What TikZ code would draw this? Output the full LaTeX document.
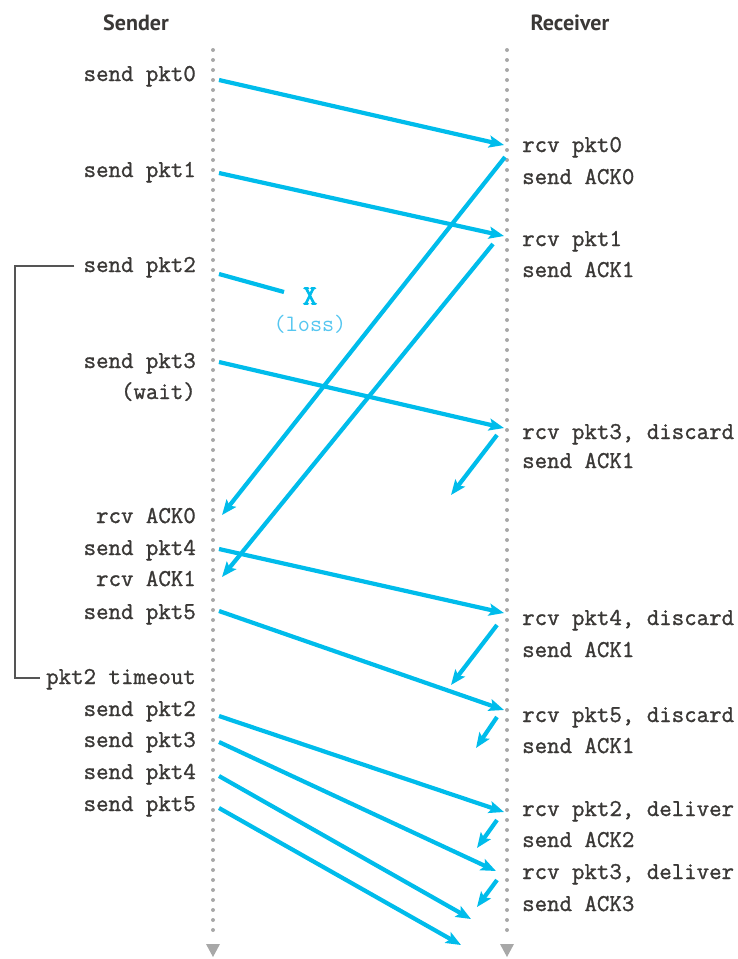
\documentclass[tikz,border=0pt]{standalone}
\usepackage{fontspec}
\newfontfamily\monof[FakeBold=1.2]{Latin Modern Mono}
\newfontfamily\monol{Latin Modern Mono}
\newfontfamily\monox[FakeBold=3]{Latin Modern Mono}
\newfontfamily\headf{PT Sans}
\usetikzlibrary{arrows.meta}
\definecolor{cy}{HTML}{00BCEB}
\definecolor{lcy}{HTML}{55C6F0}
\definecolor{txt}{HTML}{3A3836}
\definecolor{dotg}{HTML}{A8A8A8}
\definecolor{brk}{HTML}{555555}
\tikzset{
  hdr/.style={font=\headf\bfseries\fontsize{22}{26}\selectfont, text=txt, inner sep=0pt},
  slab/.style={font=\monof\fontsize{24.2}{28}\selectfont, text=txt, inner sep=0pt, anchor=base east},
  rlab/.style={font=\monof\fontsize{24.2}{28}\selectfont, text=txt, inner sep=0pt, anchor=base west},
  msg/.style={draw=cy, line width=4.2pt, -{Stealth[length=15pt,width=12pt,inset=3pt]}},
  lifeline/.style={draw=dotg, line width=4pt, line cap=round, dash pattern=on 0pt off 10pt},
  tip/.style={fill=dotg, draw=none},
  bracket/.style={draw=brk, line width=1.6pt}
}
\begin{document}
\begin{tikzpicture}[x=1pt,y=-1pt]
\useasboundingbox (0,0) rectangle (738,959);
% headers
\node[hdr] (hs) at (136,23) {Sender};
\node[hdr] (hr) at (570,23) {Receiver};
% lifelines
\coordinate (st) at (213,50); \coordinate (sb) at (213,938);
\coordinate (rt) at (507,50); \coordinate (rb) at (507,938);
\draw[lifeline] (st) -- (sb);
\draw[lifeline] (rt) -- (rb);
\fill[tip] (206,944) -- (220,944) -- (213,957) -- cycle;
\fill[tip] (500,944) -- (514,944) -- (507,957) -- cycle;
% sender labels
\node[slab] (s0) at (196,81) {send pkt0};
\node[slab] (s1) at (196,177) {send pkt1};
\node[slab] (s2) at (196,272) {send pkt2};
\node[slab] (s3) at (196,368) {send pkt3};
\node[slab] (sw) at (196,399) {(wait)};
\node[slab] (ra0) at (196,523) {rcv ACK0};
\node[slab] (s4) at (196,555) {send pkt4};
\node[slab] (ra1) at (196,586) {rcv ACK1};
\node[slab] (s5) at (196,619) {send pkt5};
\node[slab] (to) at (196,684) {pkt2 timeout};
\node[slab] (s2b) at (196,716) {send pkt2};
\node[slab] (s3b) at (196,747) {send pkt3};
\node[slab] (s4b) at (196,779) {send pkt4};
\node[slab] (s5b) at (196,811) {send pkt5};
% receiver labels
\node[rlab] (r0) at (522,152) {rcv pkt0};
\node[rlab] (k0) at (522,184) {send ACK0};
\node[rlab] (r1) at (522,246) {rcv pkt1};
\node[rlab] (k1) at (522,277) {send ACK1};
\node[rlab] (r3) at (522,439) {rcv pkt3, discard};
\node[rlab] (k1a) at (522,468) {send ACK1};
\node[rlab] (r4) at (522,625) {rcv pkt4, discard};
\node[rlab] (k1b) at (522,657) {send ACK1};
\node[rlab] (r5) at (522,722) {rcv pkt5, discard};
\node[rlab] (k1c) at (522,753) {send ACK1};
\node[rlab] (r2d) at (522,816) {rcv pkt2, deliver};
\node[rlab] (k2) at (522,847) {send ACK2};
\node[rlab] (r3d) at (522,879) {rcv pkt3, deliver};
\node[rlab] (k3) at (522,911) {send ACK3};
% loss
\node[font=\monox\fontsize{28}{32}\selectfont, text=cy, inner sep=0pt] (x) at (310,296) {X};
\node[font=\monol\fontsize{23.5}{28}\selectfont, text=lcy, inner sep=0pt] (loss) at (310,324) {(loss)};
% endpoints
\coordinate (p0a) at (219,80);  \coordinate (p0b) at (504,145);
\coordinate (p1a) at (219,173); \coordinate (p1b) at (504,236);
\coordinate (p2a) at (219,274); \coordinate (p2b) at (284,292);
\coordinate (p3a) at (219,362); \coordinate (p3b) at (504,428);
\coordinate (a0a) at (505,157); \coordinate (a0b) at (222,515);
\coordinate (a1a) at (493,244); \coordinate (a1b) at (222,577);
\coordinate (a2a) at (497,435); \coordinate (a2b) at (451,495);
\coordinate (p4a) at (219,549); \coordinate (p4b) at (504,613);
\coordinate (a3a) at (497,625); \coordinate (a3b) at (451,685);
\coordinate (p5a) at (219,611); \coordinate (p5b) at (504,710);
\coordinate (a4a) at (497,717); \coordinate (a4b) at (476,748);
\coordinate (q2a) at (219,716); \coordinate (q2b) at (504,812);
\coordinate (a5a) at (497,820); \coordinate (a5b) at (477,848);
\coordinate (q3a) at (219,742); \coordinate (q3b) at (496,871);
\coordinate (a6a) at (497,880); \coordinate (a6b) at (477,907);
\coordinate (q4a) at (219,776); \coordinate (q4b) at (471,919);
\coordinate (q5a) at (219,808); \coordinate (q5b) at (461,945);
% messages
\draw[msg] (p0a) -- (p0b);
\draw[msg] (p1a) -- (p1b);
\draw[draw=cy, line width=4.2pt] (p2a) -- (p2b);
\draw[msg] (p3a) -- (p3b);
\draw[msg] (a0a) -- (a0b);
\draw[msg] (a1a) -- (a1b);
\draw[msg] (a2a) -- (a2b);
\draw[msg] (p4a) -- (p4b);
\draw[msg] (a3a) -- (a3b);
\draw[msg] (p5a) -- (p5b);
\draw[msg] (a4a) -- (a4b);
\draw[msg] (q2a) -- (q2b);
\draw[msg] (a5a) -- (a5b);
\draw[msg] (q3a) -- (q3b);
\draw[msg] (a6a) -- (a6b);
\draw[msg] (q4a) -- (q4b);
\draw[msg] (q5a) -- (q5b);
% timeout bracket
\draw[bracket] ([xshift=-9pt]s2.west |- 0,266) -- (15,266) -- (15,678) -- ([xshift=-6pt]to.west |- 0,678);
\end{tikzpicture}
\end{document}
